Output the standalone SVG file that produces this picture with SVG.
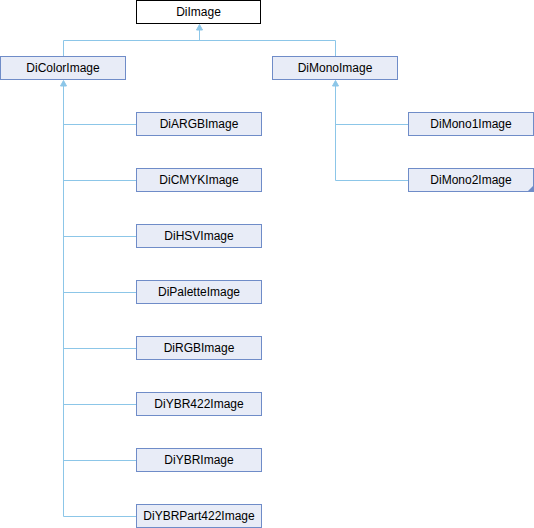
<svg xmlns="http://www.w3.org/2000/svg" width="534" height="528" viewBox="0 0 534 528">
<style>
.n rect{fill:#e8ecf7;stroke:#6f8cc8;stroke-width:1}
.root rect{fill:#ffffff;stroke:#000000}
text{font-family:"Liberation Sans",Arial,sans-serif;font-size:12px;fill:#000;text-anchor:middle}
.e{fill:none;stroke:#8cc6e8;stroke-width:1}
.ah{fill:#8cc6e8;stroke:#8cc6e8;stroke-width:1}
</style>
<rect width="534" height="528" fill="#ffffff"/>
<g id="connectors">
<path class="e" d="M199.5 30V40.5M63.5 56V40.5H335.5V56"/>
<polygon class="ah" points="199.5,24.5 196.5,30 202.5,30"/>
<path class="e" d="M63.5 86V516.5M63.5 124.5H136M63.5 180.5H136M63.5 236.5H136M63.5 292.5H136M63.5 348.5H136M63.5 404.5H136M63.5 460.5H136M63.5 516.5H136"/>
<polygon class="ah" points="63.5,80.5 60.5,86 66.5,86"/>
<path class="e" d="M335.5 86V180.5M335.5 124.5H408M335.5 180.5H408"/>
<polygon class="ah" points="335.5,80.5 332.5,86 338.5,86"/>
</g>
<g id="DiImage" class="n root"><rect x="136.5" y="0.5" width="124" height="23"/><text x="198.5" y="16">DiImage</text></g>
<g id="DiColorImage" class="n"><rect x="0.5" y="56.5" width="125" height="23"/><text x="63" y="72">DiColorImage</text></g>
<g id="DiMonoImage" class="n"><rect x="272.5" y="56.5" width="125" height="23"/><text x="335" y="72">DiMonoImage</text></g>
<g id="DiARGBImage" class="n"><rect x="136.5" y="112.5" width="125" height="23"/><text x="199" y="128">DiARGBImage</text></g>
<g id="DiCMYKImage" class="n"><rect x="136.5" y="168.5" width="125" height="23"/><text x="199" y="184">DiCMYKImage</text></g>
<g id="DiHSVImage" class="n"><rect x="136.5" y="224.5" width="125" height="23"/><text x="199" y="240">DiHSVImage</text></g>
<g id="DiPaletteImage" class="n"><rect x="136.5" y="280.5" width="125" height="23"/><text x="199" y="296">DiPaletteImage</text></g>
<g id="DiRGBImage" class="n"><rect x="136.5" y="336.5" width="125" height="23"/><text x="199" y="352">DiRGBImage</text></g>
<g id="DiYBR422Image" class="n"><rect x="136.5" y="392.5" width="125" height="23"/><text x="199" y="408">DiYBR422Image</text></g>
<g id="DiYBRImage" class="n"><rect x="136.5" y="448.5" width="125" height="23"/><text x="199" y="464">DiYBRImage</text></g>
<g id="DiYBRPart422Image" class="n"><rect x="136.5" y="504.5" width="125" height="23"/><text x="199" y="520">DiYBRPart422Image</text></g>
<g id="DiMono1Image" class="n"><rect x="408.5" y="112.5" width="125" height="23"/><text x="471" y="128">DiMono1Image</text></g>
<g id="DiMono2Image" class="n"><rect x="408.5" y="168.5" width="125" height="23"/><text x="471" y="184">DiMono2Image</text><polygon points="534,185 534,192 527,192" fill="#6f8cc8"/></g>
</svg>
